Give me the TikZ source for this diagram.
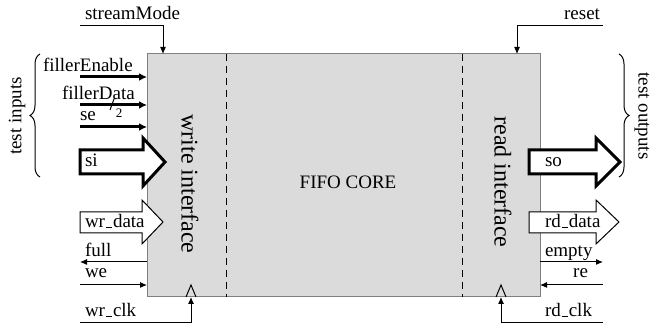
\documentclass[tikz,border=0pt]{standalone}
\usepackage{fontspec}
\setmainfont{Liberation Serif}
\usetikzlibrary{positioning,arrows.meta,decorations.pathreplacing}
\newcommand{\usc}{\kern.06em\vbox{\hrule width.3em}\kern.06em}

\begin{document}
\begin{tikzpicture}[x=0.5pt,y=-0.5pt,
every node/.style={inner sep=0pt,outer sep=0pt,font=\fontsize{9.5}{11}\selectfont},
sig/.style={line width=0.5pt,-{Latex[length=3.5pt,width=3pt]}},
tsig/.style={line width=1.5pt,-{Latex[length=4pt,width=4pt]}},
bus/.style={draw,fill=white,line width=0.5pt,miter limit=20},
tbus/.style={draw,fill=white,line width=1.5pt,miter limit=20},
side/.style={rotate=-90,font=\fontsize{12}{14}\selectfont}]

\path[use as bounding box] (0,0) rectangle (665,325);

\node[draw=gray,fill=gray!28,line width=0.5pt,minimum width=196.5pt,minimum height=121.5pt,anchor=north west] (core) at (147,54) {};
\draw[dash pattern=on 3.5pt off 2.5pt,line width=0.5pt] ([xshift=39.5pt]core.north west) -- ([xshift=39.5pt]core.south west);
\draw[dash pattern=on 3.5pt off 2.5pt,line width=0.5pt] ([xshift=-39pt]core.north east) -- ([xshift=-39pt]core.south east);
\node (fifo) at (348,182) {FIFO CORE};
\node[side] (wif) at (190,184) {write interface};
\node[side] (rif) at (503,182) {read interface};

\draw[tbus] (80,150) -- (143,150) -- (143,138) -- (165,162) -- (143,186) -- (143,174) -- (80,174) -- cycle;
\draw[bus] (80,212) -- (142,212) -- (142,200) -- (163,222) -- (142,244) -- (142,233) -- (80,233) -- cycle;
\draw[tbus] (529,150) -- (596,150) -- (596,138) -- (620,162) -- (596,186) -- (596,174) -- (529,174) -- cycle;
\draw[bus] (529,212) -- (596,212) -- (596,200) -- (619,222) -- (596,244) -- (596,233) -- (529,233) -- cycle;

\node[anchor=base west] (sm) at (85,20) {streamMode};
\node[anchor=base east] (rst) at (600,20) {reset};
\node[anchor=base west] (fe) at (43,72) {fillerEnable};
\node[anchor=base west] (fd) at (62,100) {fillerData};
\node[anchor=base west] (se) at (80,121) {se};
\node[anchor=base west] (si) at (85,167) {si};
\node[anchor=base west] (wd) at (85,228) {wr\usc data};
\node[anchor=base west] (full) at (85,257) {full};
\node[anchor=base west] (we) at (85,278) {we};
\node[anchor=base west] (wclk) at (85,317) {wr\usc clk};
\node[anchor=base west] (so) at (545,167) {so};
\node[anchor=base west] (rd) at (545,228) {rd\usc data};
\node[anchor=base west] (empty) at (545,257) {empty};
\node[anchor=base east] (re) at (588,278) {re};
\node[anchor=base west] (rclk) at (545,317) {rd\usc clk};
\node[font=\fontsize{6.5}{7}\selectfont] (two) at (119,113) {2};

\coordinate (smin) at (80,26);
\coordinate (rstin) at (603,26);
\coordinate (fein) at (80,77);
\coordinate (fdin) at (80,105);
\coordinate (sein) at (80,127);
\coordinate (fullout) at (80,262);
\coordinate (wein) at (80,285);
\coordinate (emptyout) at (603,262);
\coordinate (rein) at (603,285);
\coordinate (wclkin) at (80,323);
\coordinate (rclkin) at (603,323);

\draw[sig] (smin) -| ([xshift=8pt]core.north west);
\draw[sig] (rstin) -| ([xshift=-11.5pt]core.north east);
\draw[tsig] (fein) -- (fein -| core.west);
\draw[tsig] (fdin) -- (fdin -| core.west);
\draw[tsig] (sein) -- (sein -| core.west);
\draw[line width=0.5pt] (110,110) -- (114,99);
\draw[sig] (fullout -| core.west) -- (fullout);
\draw[sig] (wein) -- (wein -| core.west);
\draw[sig] (emptyout -| core.east) -- (emptyout);
\draw[sig] (rein) -- (rein -| core.east);
\draw[sig] (wclkin) -| ([xshift=22pt]core.south west);
\draw[sig] (rclkin) -| ([xshift=-19.5pt]core.south east);
\draw[line width=0.5pt] (186,297) -- (191,285) -- (196,297);
\draw[line width=0.5pt] (496,297) -- (501,285) -- (506,297);

\draw[line width=0.5pt,decorate,decoration={brace,amplitude=5pt}] (40,177) -- (40,54);
\draw[line width=0.5pt,decorate,decoration={brace,amplitude=5pt}] (619,54) -- (619,177);
\node[rotate=90] (tin) at (17,116) {test inputs};
\node[rotate=-90] (tout) at (642,116) {test outputs};

\end{tikzpicture}
\end{document}
